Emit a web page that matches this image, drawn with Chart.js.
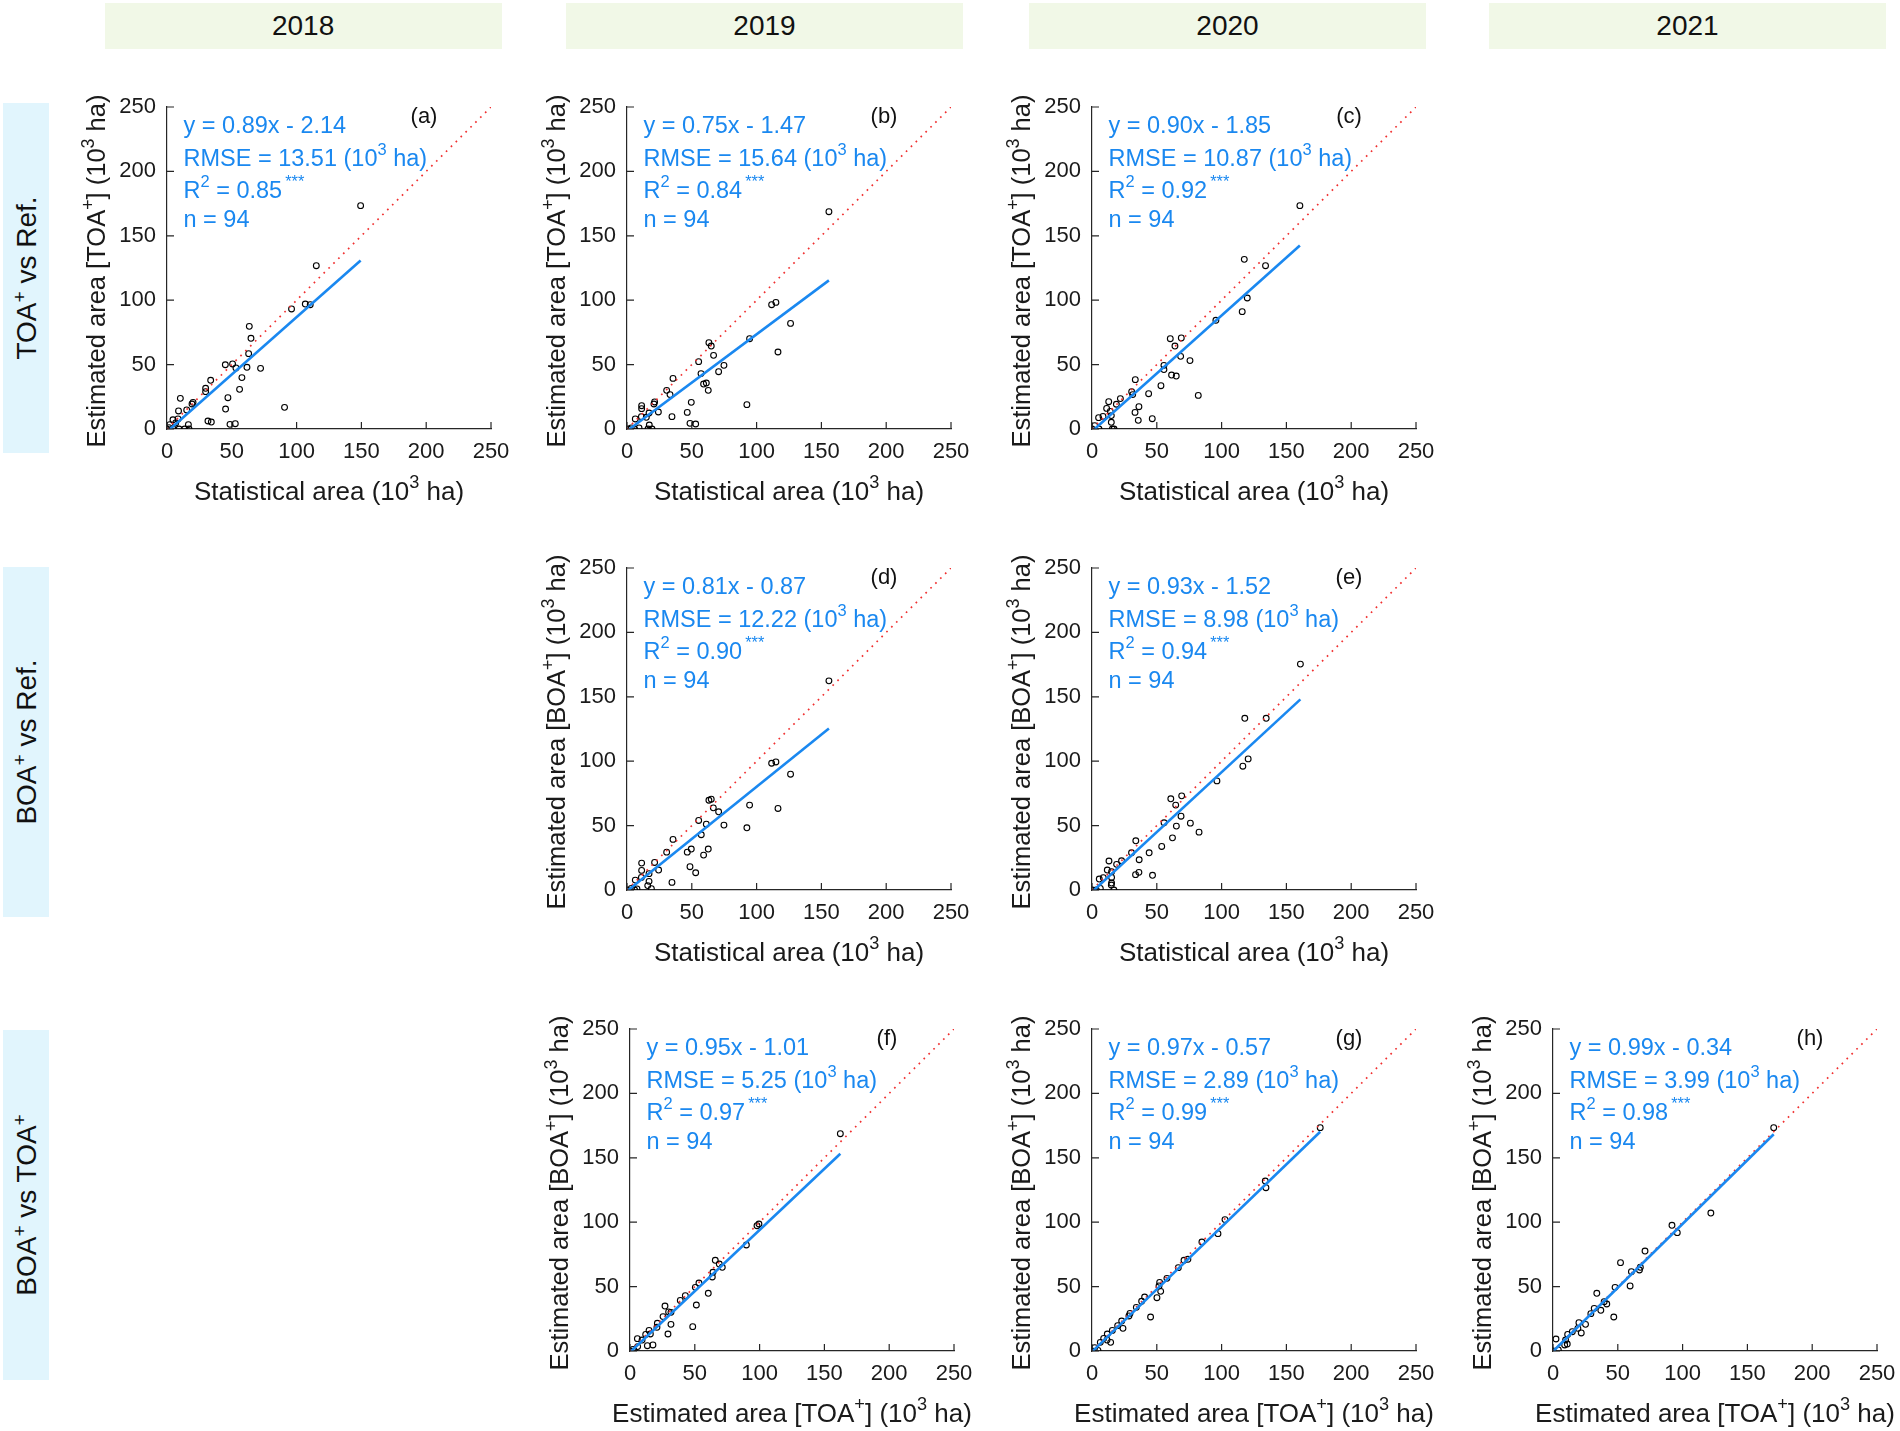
<!DOCTYPE html>
<html>
<head>
<meta charset="utf-8">
<script src="https://cdn.jsdelivr.net/npm/chart.js@4.4.1/dist/chart.umd.min.js"></script>
<style>
  body { margin: 0; width: 1900px; height: 1431px; position: relative; background: #fff; overflow: hidden;
         font-family: "Liberation Sans", Arial, sans-serif; }
  .hdr { position: absolute; top: 3px; height: 46px; width: 397px; background: #f1f8e7; color: #111;
         font-size: 28px; display: flex; align-items: center; justify-content: center; }
  .side { position: absolute; left: 3px; width: 46px; height: 350px; background: #e1f5fd; }
  .side span { position: absolute; left: 50%; top: 50%; white-space: nowrap; font-size: 28px; color: #111;
               transform: translate(-50%, -50%) rotate(-90deg); }
  .side sup { font-size: 19px; }
  canvas { position: absolute; }
</style>
</head>
<body>
<script>
// ---- data (10^3 ha) ----
const years = ["2018", "2019", "2020", "2021"];
const rowLabels = ["TOA<sup>+</sup> vs Ref.", "BOA<sup>+</sup> vs Ref.", "BOA<sup>+</sup> vs TOA<sup>+</sup>"];

const aX = [149.4,115.2,96.1,106.7,110.5,63.5,64.8,63.0,45.0,50.6,53.2,61.7,72.2,57.8,56.0,33.7,29.8,29.8,47.0,45.2,90.7,31.6,34.2,48.6,52.7,10.3,20.1,19.3,15.2,8.9,4.6,8.5,2.1,16.5,6.7,0,4.6,9.3,13.6,17.0,1.5];
const aY = [173.4,126.8,93.2,97.0,96.5,79.7,70.4,58.5,49.9,50.5,47.4,47.9,47.1,39.9,30.8,37.8,31.6,29.0,24.3,15.5,16.8,6.2,5.4,3.6,4.1,23.8,20.7,19.4,14.8,14.0,7.2,7.8,3.4,3.4,4.7,0,0,0,0,0,1.0];

const bX = [155.8,111.6,114.9,126.2,116.5,94.6,63.2,65.0,66.8,55.3,74.8,70.7,57.1,59.1,61.2,62.7,35.5,30.6,33.2,49.6,46.5,92.5,34.7,48.6,53.0,21.3,20.8,11.3,11.3,24.2,17.0,11.1,14.9,6.4,17.2,9.3,16.2,19.3,0.8,3.3,5.9];
const bY = [168.7,96.5,98.3,82.0,59.8,70.1,67.0,64.4,57.2,52.3,49.4,44.5,43.0,34.9,35.7,30.0,39.3,30.0,26.7,20.7,12.9,18.9,9.6,4.4,3.9,21.0,19.4,18.1,15.8,13.2,12.4,9.6,9.1,7.8,3.1,0.8,0,0,0,0.8,0];

const cX = [160.4,117.5,133.9,119.8,115.9,95.6,60.4,68.9,64.0,68.4,75.6,55.5,55.5,61.4,65.0,33.4,53.2,30.6,31.4,43.7,82.0,21.9,18.8,12.9,11.3,14.1,8.5,5.1,14.9,36.2,33.2,35.7,46.5,14.9,15.7,17.0,2.1,0,5.4];
const cY = [173.4,131.7,126.8,101.7,91.1,84.4,70.1,70.7,64.4,56.4,53.1,49.4,46.1,41.9,41.1,38.3,33.6,29.0,26.7,27.4,26.1,23.6,19.2,21.2,16.0,13.7,9.8,8.8,10.4,17.3,12.9,6.7,8.0,5.2,0,0,2.6,0,0];

const dX = [155.8,111.6,114.9,126.2,116.5,94.6,92.5,63.2,65.0,66.6,70.7,55.3,61.2,74.8,57.3,62.7,59.1,35.5,30.6,46.5,49.6,48.6,53.0,34.7,24.4,21.3,11.3,11.3,17.0,11.1,6.4,17.0,16.0,18.8,7.7,0,3.3,5.9];
const dY = [162.4,98.4,99.4,89.9,63.3,65.9,48.3,69.7,70.5,63.8,60.7,54.0,51.1,50.4,42.9,31.8,27.1,39.3,29.4,29.4,31.8,18.1,13.4,5.9,15.5,21.4,20.9,15.2,12.7,9.8,7.7,6.7,3.4,1.0,0.8,0,1.3,0];

const eX = [160.8,117.9,134.4,120.5,116.4,96.4,69.2,60.8,64.6,68.7,55.6,65.1,75.9,82.6,62.1,33.8,53.8,30.5,44.1,36.4,22.8,19.0,13.1,11.8,15.1,8.7,5.6,15.1,36.2,33.6,46.7,15.1,14.9,16.9,6.4,0.3,3.3];
const eY = [175.4,133.3,133.3,101.8,96.1,84.7,73.1,70.8,65.9,57.3,52.2,49.6,51.9,44.9,40.5,38.2,33.8,28.9,28.9,23.5,22.7,19.9,22.5,15.5,14.2,9.6,8.5,9.8,13.7,11.9,11.4,5.4,3.9,0,1.3,0,0];

const fX = [162.3,99.5,98.0,89.8,65.8,68.9,71.2,63.5,64.0,60.4,53.2,50.4,42.7,38.8,51.2,27.0,25.5,29.8,31.6,21.1,20.8,31.6,48.4,29.3,14.7,15.7,12.1,9.3,5.7,13.4,17.7,5.9,2.3,0,3.3];
const fY = [168.7,98.6,97.3,82.3,70.4,67.5,65.0,57.5,61.1,44.8,52.8,49.4,43.0,39.3,35.7,34.9,26.7,30.3,30.0,21.5,18.4,20.7,18.9,13.2,16.0,13.2,12.9,8.5,9.6,4.1,4.7,3.4,1.3,0,0];

const gX = [176.1,133.7,134.2,102.6,97.2,84.8,71.0,74.0,66.6,57.8,52.2,51.7,53.0,50.1,40.6,38.3,34.2,29.3,28.5,45.2,22.9,19.8,23.9,15.7,11.8,9.0,11.6,14.4,6.4,2.1,4.6,0];
const gY = [173.4,132.0,126.8,102.0,91.1,84.6,70.4,71.2,64.7,56.4,53.3,50.5,46.3,41.4,41.9,38.6,33.9,29.2,27.2,26.4,23.3,19.7,17.6,16.0,13.2,9.8,8.5,6.7,6.7,2.6,0.5,0];

const hX = [170.3,121.8,91.8,95.9,71.0,52.1,60.5,66.7,67.4,59.5,47.9,33.8,39.5,41.5,31.8,36.9,29.2,46.9,25.1,20.0,21.8,19.2,14.9,11.3,9.7,11.0,9.0,2.3,4.1,0];
const hY = [173.4,107.1,97.6,91.9,77.6,68.6,61.6,62.9,65.0,50.5,49.4,44.8,38.3,36.5,33.1,31.6,29.0,26.4,20.7,22.0,14.0,17.6,15.0,12.9,8.5,5.4,4.7,9.3,0.8,0];

const panelTags    = ["(a)", "(b)", "(c)", "(d)", "(e)", "(f)", "(g)", "(h)"];
const fitSlope     = [0.89, 0.75, 0.90, 0.81, 0.93, 0.95, 0.97, 0.99];
const fitIntercept = [-2.14, -1.47, -1.85, -0.87, -1.52, -1.01, -0.57, -0.34];
const rmseVals     = ["13.51", "15.64", "10.87", "12.22", "8.98", "5.25", "2.89", "3.99"];
const r2Vals       = ["0.85", "0.84", "0.92", "0.90", "0.94", "0.97", "0.99", "0.98"];
const nVals        = [94, 94, 94, 94, 94, 94, 94, 94];
const axisTicks    = [0, 50, 100, 150, 200, 250];

const xTitleStat = "Statistical area (10^{3} ha)";
const xTitleToa  = "Estimated area [TOA^{+}] (10^{3} ha)";
const yTitleToa  = "Estimated area [TOA^{+}] (10^{3} ha)";
const yTitleBoa  = "Estimated area [BOA^{+}] (10^{3} ha)";

// ---- layout ----
const FONT = "'Liberation Sans', Arial, sans-serif";
const BLUE = "#1a88f0";
const AXIS = "#262626";
const PW = 324, PH = 322;           // plot area
const YW = 120, PADT = 28, XH = 106, PADR = 32;  // pads cover tick label overhang (label/2 + tick padding)

const panels = [
  { xs: aX, ys: aY, left: 167.3,  top: 107.3,  xt: xTitleStat, yt: yTitleToa },
  { xs: bX, ys: bY, left: 627.3,  top: 107.3,  xt: xTitleStat, yt: yTitleToa },
  { xs: cX, ys: cY, left: 1092,   top: 107.3,  xt: xTitleStat, yt: yTitleToa },
  { xs: dX, ys: dY, left: 627.3,  top: 568,    xt: xTitleStat, yt: yTitleBoa },
  { xs: eX, ys: eY, left: 1092,   top: 568,    xt: xTitleStat, yt: yTitleBoa },
  { xs: fX, ys: fY, left: 630,    top: 1029.3, xt: xTitleToa,  yt: yTitleBoa },
  { xs: gX, ys: gY, left: 1092,   top: 1029.3, xt: xTitleToa,  yt: yTitleBoa },
  { xs: hX, ys: hY, left: 1553.3, top: 1029.3, xt: xTitleToa,  yt: yTitleBoa }
];

// headers + row labels (html)
const hdrLeft = [104.6, 566, 1029, 1489];
years.forEach((y, i) => {
  const d = document.createElement("div");
  d.className = "hdr"; d.style.left = hdrLeft[i] + "px"; d.textContent = y;
  document.body.appendChild(d);
});
const sideTop = [103, 567, 1030];
rowLabels.forEach((t, i) => {
  const d = document.createElement("div");
  d.className = "side"; d.style.top = sideTop[i] + "px";
  d.innerHTML = "<span>" + t + "</span>";
  document.body.appendChild(d);
});

// text with ^{sup} parts
function drawRich(ctx, str, x, y, size, color, align) {
  const parts = str.split(/\^\{([^}]*)\}/);
  const supSize = size * 0.7, raise = size * 0.45;
  let w = 0;
  parts.forEach((p, i) => {
    ctx.font = (i % 2 ? supSize : size) + "px " + FONT;
    w += ctx.measureText(p).width + (i % 2 && p[0] === "*" ? 3 : 0);
  });
  let cx = align === "center" ? x - w / 2 : x;
  ctx.fillStyle = color; ctx.textAlign = "left"; ctx.textBaseline = "alphabetic";
  parts.forEach((p, i) => {
    const sup = i % 2 === 1;
    ctx.font = (sup ? supSize : size) + "px " + FONT;
    if (sup && p[0] === "*") cx += 3;
    ctx.fillText(p, cx, sup ? y - raise : y);
    cx += ctx.measureText(p).width;
  });
}

const decor = {
  id: "decor",
  afterDraw(chart) {
    const k = chart.options.plugins.decor.k;
    const p = panels[k];
    const { ctx, chartArea: a, scales: { x, y } } = chart;
    ctx.save();
    // inward ticks
    ctx.strokeStyle = AXIS; ctx.lineWidth = 1.2;
    ctx.beginPath();
    x.ticks.forEach(t => { const px = x.getPixelForValue(t.value); ctx.moveTo(px, a.bottom); ctx.lineTo(px, a.bottom - 7); });
    y.ticks.forEach(t => { const py = y.getPixelForValue(t.value); ctx.moveTo(a.left, py); ctx.lineTo(a.left + 7, py); });
    ctx.stroke();
    // stats
    const s = fitSlope[k], b = fitIntercept[k];
    const lines = [
      "y = " + s.toFixed(2) + "x " + (b < 0 ? "- " : "+ ") + Math.abs(b).toFixed(2),
      "RMSE = " + rmseVals[k] + " (10^{3} ha)",
      "R^{2} = " + r2Vals[k] + "^{***}",
      "n = " + nVals[k]
    ];
    const offs = [26, 58.7, 91, 120.3];
    lines.forEach((l, i) => drawRich(ctx, l, a.left + 16.5, a.top + offs[i], 23.5, BLUE, "left"));
    drawRich(ctx, panelTags[k], a.left + 257, a.top + 16, 22, "#111", "center");
    // axis titles
    drawRich(ctx, p.xt, (a.left + a.right) / 2, a.bottom + 71, 26, "#1a1a1a", "center");
    ctx.translate(a.left - 62, (a.top + a.bottom) / 2 + 3);
    ctx.rotate(-Math.PI / 2);
    drawRich(ctx, p.yt, 0, 0, 25.5, "#1a1a1a", "center");
    ctx.restore();
  }
};

panels.forEach((p, k) => {
  const cv = document.createElement("canvas");
  cv.width = YW + PW + PADR;
  cv.height = PADT + PH + XH;
  cv.style.left = (p.left - YW) + "px";
  cv.style.top = (p.top - PADT) + "px";
  document.body.appendChild(cv);

  const maxX = Math.max(...p.xs);
  const s = fitSlope[k], b = fitIntercept[k];
  const x0 = Math.max(0, -b / s);
  const tickFont = { family: FONT, size: 22 };

  new Chart(cv.getContext("2d"), {
    type: "scatter",
    data: {
      datasets: [
        { data: p.xs.map((v, i) => ({ x: v, y: p.ys[i] })), pointRadius: 2.9, pointBorderWidth: 1.1,
          pointBorderColor: "#000", pointBackgroundColor: "rgba(0,0,0,0)", order: 3 },
        { data: [{ x: 0, y: 0 }, { x: 250, y: 250 }], showLine: true, pointRadius: 0,
          borderColor: "#f03030", borderWidth: 1.7, borderDash: [1.7, 5.2], order: 2 },
        { data: [{ x: x0, y: s * x0 + b }, { x: maxX, y: s * maxX + b }], showLine: true, pointRadius: 0,
          borderColor: BLUE, borderWidth: 2.6, order: 1 }
      ]
    },
    options: {
      responsive: false,
      animation: false,
      layout: { padding: { left: 0, top: PADT, right: PADR, bottom: 0 } },
      plugins: { legend: { display: false }, tooltip: { enabled: false }, decor: { k } },
      scales: {
        x: {
          type: "linear", min: 0, max: 250,
          afterBuildTicks: sc => { sc.ticks = axisTicks.map(v => ({ value: v })); },
          afterFit: sc => { sc.height = XH; },
          grid: { display: false, drawTicks: false },
          border: { display: true, color: AXIS, width: 1.2 },
          ticks: { font: tickFont, color: "#1a1a1a", padding: 10, maxRotation: 0 }
        },
        y: {
          type: "linear", min: 0, max: 250,
          afterBuildTicks: sc => { sc.ticks = axisTicks.map(v => ({ value: v })); },
          afterFit: sc => { sc.width = YW; },
          grid: { display: false, drawTicks: false },
          border: { display: true, color: AXIS, width: 1.2 },
          ticks: { font: tickFont, color: "#1a1a1a", padding: 11 }
        }
      }
    },
    plugins: [decor]
  });
});
</script>
</body>
</html>
